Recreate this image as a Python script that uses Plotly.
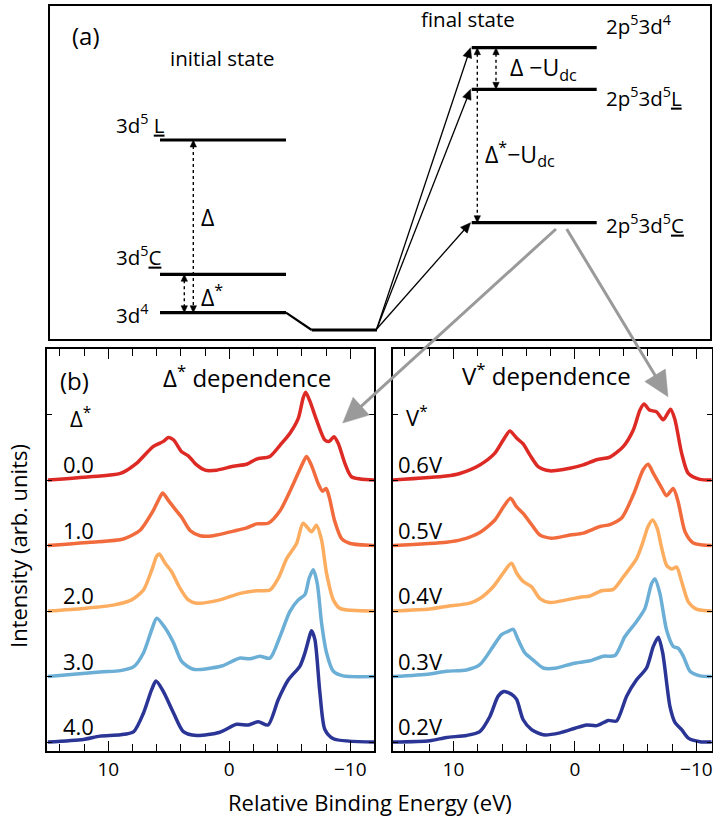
import math
import plotly.graph_objects as go

W, H = 713, 819
FONT = "Open Sans"

# ---------------- data: spectra (energy in eV, intensity in offset units) ----------------
delta_labels = ["0.0", "1.0", "2.0", "3.0", "4.0"]
v_labels = ["0.6V", "0.5V", "0.4V", "0.3V", "0.2V"]
offsets = [4, 3, 2, 1, 0]
colors = ["#DD2A25", "#F26B3D", "#FDAD5F", "#6BAED6", "#2B3596"]

d0_E = [15.0, 11.5, 9.0, 7.7, 6.3, 5.45, 5.04, 4.6, 3.94, 3.39, 2.7, 2.0, 1.05, -0.33, -1.43, -2.26, -3.36, -4.19, -5.0, -5.7, -6.1, -6.31, -6.67, -7.2, -7.9, -8.26, -8.65, -9.0, -9.56, -10.1, -12.0]
d0_I = [0, 0.05, 0.10, 0.25, 0.51, 0.59, 0.65, 0.61, 0.43, 0.37, 0.23, 0.15, 0.15, 0.21, 0.24, 0.32, 0.36, 0.53, 0.71, 0.94, 1.25, 1.34, 1.20, 0.92, 0.61, 0.59, 0.66, 0.56, 0.25, 0.05, 0.0]

d1_E = [15.0, 11.5, 8.76, 7.4, 6.3, 5.73, 5.5, 5.04, 4.5, 3.94, 3.25, 2.42, 1.32, -0.33, -1.43, -2.26, -3.22, -4.19, -5.29, -6.1, -6.39, -6.8, -7.36, -7.7, -8.0, -8.26, -8.7, -9.3, -10.0, -12.0]
d1_I = [0, 0.05, 0.10, 0.23, 0.53, 0.74, 0.80, 0.69, 0.56, 0.43, 0.23, 0.15, 0.15, 0.22, 0.27, 0.33, 0.34, 0.53, 0.94, 1.27, 1.36, 1.22, 0.94, 0.83, 0.87, 0.74, 0.38, 0.10, 0.03, 0.0]

d2_E = [15.0, 12.07, 9.6, 8.07, 7.1, 6.4, 6.0, 5.79, 5.3, 4.77, 4.08, 3.39, 2.7, 0.77, -0.88, -2.26, -3.36, -4.05, -4.74, -5.56, -6.1, -6.8, -7.2, -7.63, -8.04, -8.6, -9.15, -12.0]
d2_I = [0, 0.04, 0.09, 0.17, 0.32, 0.63, 0.84, 0.87, 0.73, 0.60, 0.35, 0.17, 0.12, 0.17, 0.27, 0.31, 0.32, 0.50, 0.80, 1.03, 1.34, 1.21, 1.31, 1.08, 0.575, 0.17, 0.04, 0.0]

d3_E = [15.0, 10.7, 9.0, 7.9, 7.1, 6.42, 6.0, 5.3, 4.6, 3.94, 2.98, 0.63, -0.83, -1.7, -2.53, -3.36, -4.19, -5.0, -5.7, -6.25, -6.6, -6.94, -7.27, -7.63, -8.04, -8.6, -9.4, -12.0]
d3_I = [0, 0.07, 0.09, 0.15, 0.36, 0.71, 0.89, 0.74, 0.51, 0.23, 0.11, 0.16, 0.28, 0.27, 0.31, 0.28, 0.61, 0.99, 1.17, 1.25, 1.50, 1.63, 1.42, 0.81, 0.36, 0.08, 0.01, 0.0]

d4_E = [15.0, 12.07, 10.7, 9.0, 7.9, 7.1, 6.42, 6.06, 5.45, 4.6, 3.8, 2.7, 0.77, -0.6, -1.57, -2.4, -3.2, -4.05, -4.88, -5.84, -6.25, -6.67, -6.8, -7.08, -7.49, -7.9, -8.6, -12.0]
d4_I = [0, 0.04, 0.09, 0.11, 0.16, 0.44, 0.80, 0.93, 0.77, 0.44, 0.16, 0.10, 0.15, 0.27, 0.26, 0.31, 0.26, 0.65, 0.95, 1.16, 1.36, 1.64, 1.70, 1.56, 0.75, 0.19, 0.05, 0.0]

v6_E = [15.0, 10.58, 9.48, 7.83, 6.59, 5.9, 5.36, 4.8, 4.26, 3.7, 3.0, 2.06, 0.41, -0.69, -1.79, -2.88, -3.98, -4.8, -5.36, -5.7, -6.13, -6.73, -7.28, -7.88, -8.24, -8.79, -9.34, -10.3, -11.4]
v6_I = [0, 0.06, 0.10, 0.23, 0.41, 0.61, 0.75, 0.64, 0.55, 0.38, 0.20, 0.14, 0.18, 0.23, 0.31, 0.35, 0.51, 0.76, 1.07, 1.16, 1.07, 1.04, 0.92, 1.08, 0.92, 0.41, 0.10, 0.01, 0]

v5_E = [15.0, 10.58, 9.34, 7.83, 6.59, 5.85, 5.3, 4.8, 4.26, 3.57, 2.88, 1.92, 0.41, -0.69, -2.06, -2.88, -3.85, -4.8, -5.63, -6.04, -6.46, -7.14, -7.55, -8.1, -8.5, -9.07, -9.75, -11.4]
v5_I = [0, 0.05, 0.09, 0.20, 0.39, 0.60, 0.72, 0.59, 0.49, 0.32, 0.16, 0.11, 0.16, 0.19, 0.29, 0.32, 0.42, 0.77, 1.16, 1.24, 1.10, 0.88, 0.76, 0.87, 0.67, 0.21, 0.04, 0]

v4_E = [15.0, 11.95, 10.58, 8.65, 7.83, 6.73, 5.9, 5.22, 4.8, 4.26, 3.57, 2.88, 2.06, 0.69, -0.41, -1.24, -2.2, -3.16, -3.98, -5.08, -5.6, -6.0, -6.4, -6.8, -7.1, -7.55, -7.97, -8.38, -8.79, -9.34, -10.0, -11.4]
v4_I = [0, 0.03, 0.07, 0.12, 0.19, 0.37, 0.58, 0.73, 0.58, 0.45, 0.37, 0.19, 0.13, 0.17, 0.21, 0.23, 0.31, 0.33, 0.52, 0.80, 1.05, 1.28, 1.39, 1.25, 1.0, 0.70, 0.64, 0.67, 0.45, 0.14, 0.03, 0]

v3_E = [15.0, 11.95, 10.58, 8.93, 7.83, 6.73, 6.04, 5.5, 5.08, 4.67, 4.12, 3.43, 2.61, 1.51, 0.14, -1.24, -2.34, -3.3, -4.12, -5.08, -5.77, -6.32, -6.59, -7.0, -7.55, -8.1, -8.52, -8.93, -9.48, -10.3, -11.4]
v3_I = [0, 0.04, 0.08, 0.10, 0.18, 0.46, 0.64, 0.69, 0.72, 0.56, 0.36, 0.25, 0.13, 0.13, 0.20, 0.24, 0.31, 0.32, 0.61, 0.84, 1.04, 1.42, 1.49, 1.27, 0.71, 0.46, 0.43, 0.31, 0.08, 0.01, 0]

v2_E = [15.0, 11.95, 10.58, 8.93, 7.83, 7.0, 6.32, 5.85, 5.22, 4.8, 4.26, 3.57, 2.61, 1.24, 0.0, -0.96, -1.79, -2.75, -3.43, -4.26, -5.08, -5.9, -6.46, -6.87, -7.23, -7.83, -8.24, -8.79, -9.34, -10.3, -11.4]
v2_I = [0, 0.02, 0.07, 0.10, 0.16, 0.39, 0.70, 0.77, 0.73, 0.65, 0.34, 0.19, 0.11, 0.14, 0.21, 0.26, 0.25, 0.33, 0.32, 0.70, 0.95, 1.13, 1.46, 1.60, 1.36, 0.54, 0.30, 0.19, 0.06, 0.005, 0]

x_tickvals = [10, 0, -10]

delta_series = [(d0_E, d0_I), (d1_E, d1_I), (d2_E, d2_I), (d3_E, d3_I), (d4_E, d4_I)]
v_series = [(v6_E, v6_I), (v5_E, v5_I), (v4_E, v4_I), (v3_E, v3_I), (v2_E, v2_I)]


def px(x):
    return x / W


def py(y):
    return 1 - y / H


fig = go.Figure()

for (E, I), off, c in zip(delta_series, offsets, colors):
    fig.add_trace(go.Scatter(x=E, y=[v + off for v in I], mode="lines",
                             line=dict(color=c, width=3.5, shape="spline", smoothing=0.7),
                             xaxis="x", yaxis="y", showlegend=False, hoverinfo="skip"))
for (E, I), off, c in zip(v_series, offsets, colors):
    fig.add_trace(go.Scatter(x=E, y=[v + off for v in I], mode="lines",
                             line=dict(color=c, width=3.5, shape="spline", smoothing=0.7),
                             xaxis="x2", yaxis="y2", showlegend=False, hoverinfo="skip"))

ydom = [py(751), py(349)]
common_x = dict(tickmode="array", tickvals=x_tickvals, ticks="inside", ticklen=10, tickwidth=1.3,
                tickcolor="black", showline=True, linecolor="black", linewidth=1.8, mirror="ticks",
                showgrid=False, zeroline=False, tickfont=dict(family=FONT, size=19, color="black"),
                minor=dict(tickmode="linear", tick0=0, dtick=2, ticks="inside", ticklen=7,
                           tickwidth=1.3, tickcolor="black", showgrid=False))
common_y = dict(tickmode="array", tickvals=[0, 1, 2, 3, 4, 5], ticks="inside", ticklen=5,
                tickwidth=1.3, tickcolor="black", showticklabels=False, showline=True,
                linecolor="black", linewidth=1.8, mirror="ticks", showgrid=False,
                zeroline=False, range=[-0.137, 6.0], domain=ydom)

fig.update_layout(
    width=W, height=H, margin=dict(l=0, r=0, t=0, b=0),
    paper_bgcolor="white", plot_bgcolor="white",
    xaxis=dict(domain=[px(47), px(374)], range=[15.07, -11.96], anchor="y", **common_x),
    yaxis=dict(anchor="x", **common_y),
    xaxis2=dict(domain=[px(393), px(711.5)], range=[14.98, -11.25], anchor="y2", **common_x),
    yaxis2=dict(anchor="x2", **common_y),
)

shapes = []
anns = []

def line(x0, y0, x1, y1, width=3, color="black", dash=None):
    d = dict(type="line", xref="paper", yref="paper", x0=px(x0), y0=py(y0), x1=px(x1), y1=py(y1),
             line=dict(color=color, width=width))
    if dash:
        d["line"]["dash"] = dash
    shapes.append(d)

def head(tx, ty, hx, hy, L, w, color="black"):
    dx, dy = hx - tx, hy - ty
    n = math.hypot(dx, dy)
    ux, uy = dx / n, dy / n
    bx, by = hx - ux * L, hy - uy * L
    p1 = (bx - uy * w, by + ux * w)
    p2 = (bx + uy * w, by - ux * w)
    path = "M {:.5f},{:.5f} L {:.5f},{:.5f} L {:.5f},{:.5f} Z".format(
        px(hx), py(hy), px(p1[0]), py(p1[1]), px(p2[0]), py(p2[1]))
    shapes.append(dict(type="path", xref="paper", yref="paper", path=path,
                       fillcolor=color, line=dict(color=color, width=0.5)))
    return bx, by

def arrow(tx, ty, hx, hy, color="black", width=1.3, L=10, w=4.5, dash=None):
    bx, by = head(tx, ty, hx, hy, L, w, color)
    # shorten line slightly into the head
    dx, dy = hx - tx, hy - ty
    n = math.hypot(dx, dy)
    ex, ey = bx + dx / n * 2, by + dy / n * 2
    line(tx, ty, ex, ey, width=width, color=color, dash=dash)

def text(x, y, t, size=17, xanchor="left", yanchor="middle", angle=0):
    anns.append(dict(xref="paper", yref="paper", x=px(x), y=py(y), text=t, showarrow=False,
                     xanchor=xanchor, yanchor=yanchor, textangle=angle,
                     font=dict(family=FONT, size=size, color="black")))

def dashed_double(x, y0, y1):
    L = 7
    line(x, y0 + L - 1, x, y1 - L + 1, width=1.4, dash="3px,3px")
    head(x, y0 + 20, x, y0, L, 3.2)
    head(x, y1 - 20, x, y1, L, 3.2)

# panel (a) box
shapes.append(dict(type="rect", xref="paper", yref="paper", x0=px(49), y0=py(5), x1=px(711), y1=py(340),
                   line=dict(color="black", width=2)))

# initial levels
for yl in [140, 274.3, 312.7]:
    line(160, yl, 286, yl, width=3.2)
# ground connector
line(286, 312.7, 311.7, 330, width=2.2)
line(311.7, 330, 377, 330, width=2.8)
# final levels
for yl in [47.7, 89.3, 222.7]:
    line(471.7, yl, 596.7, yl, width=3.2)

# excitation arrows
arrow(376.7, 329, 470.5, 47.7)
arrow(376.7, 329, 470.5, 89.3)
arrow(376.7, 329, 470.5, 222.7)

# energy gaps
dashed_double(193.3, 140, 312.7)
dashed_double(184.3, 274.3, 312.7)
dashed_double(496, 47.7, 89.3)
dashed_double(477.3, 47.7, 222.7)

# panel (a) texts
text(70, 36, "(a)", size=24)
text(222.7, 58, "initial state", size=20.5, xanchor="center")
text(468.3, 19, "final state", size=20.5, xanchor="center")
text(114, 124, "3d<sup>5</sup> <u>L</u>", size=20.5)
text(114, 256, "3d<sup>5</sup><u>C</u>", size=20.5)
text(114, 314, "3d<sup>4</sup>", size=20.5)
text(199, 217, "Δ", size=23)
text(199, 296, "Δ<sup>*</sup>", size=23)
text(604, 25, "2p<sup>5</sup>3d<sup>4</sup>", size=20.5)
text(604, 97, "2p<sup>5</sup>3d<sup>5</sup><u>L</u>", size=20.5)
text(604, 224, "2p<sup>5</sup>3d<sup>5</sup><u>C</u>", size=20.5)
text(508, 68, "Δ −U<sub>dc</sub>", size=23)
text(483, 154, "Δ<sup>*</sup>−U<sub>dc</sub>", size=23)

# panel (b) texts
text(58, 380, "(b)", size=24)
text(161, 377, "Δ<sup>*</sup> dependence", size=24)
text(68, 418, "Δ<sup>*</sup>", size=22)
text(460, 375, "V<sup>*</sup> dependence", size=24)
text(404, 416, "V<sup>*</sup>", size=22)

for lab, off in zip(delta_labels, offsets):
    anns.append(dict(xref="x", yref="y", x=13.95, y=off + 0.24, text=lab, showarrow=False,
                     xanchor="left", yanchor="middle", font=dict(family=FONT, size=22, color="black")))
for lab, off in zip(v_labels, offsets):
    anns.append(dict(xref="x2", yref="y2", x=14.75, y=off + 0.24, text=lab, showarrow=False,
                     xanchor="left", yanchor="middle", font=dict(family=FONT, size=22, color="black")))

# axis titles
text(18, 546, "Intensity (arb. units)", size=22, xanchor="center", angle=-90)
text(370, 802, "Relative Binding Energy (eV)", size=22, xanchor="center")

# grey pointer arrows
arrow(556, 229, 342.7, 423, color="#9A9A9A", width=3, L=25, w=12)
arrow(566.7, 229, 668, 396.7, color="#9A9A9A", width=3, L=25, w=12)

fig.update_layout(shapes=shapes, annotations=anns)
fig.write_html("out.html")
